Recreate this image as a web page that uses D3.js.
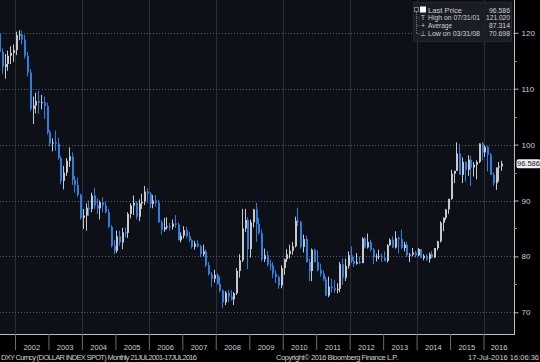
<!DOCTYPE html>
<html>
<head>
<meta charset="utf-8">
<script src="https://cdn.jsdelivr.net/npm/d3@7"></script>
<style>
  body { margin: 0; background: #000; }
  svg { display: block; }
  text { font-family: "Liberation Sans", Arial, sans-serif; }
</style>
</head>
<body>
<div id="chart"></div>
<script>
// DXY monthly OHLC, Jul 2001 - Jul 2016 (one row per year)
const firstMonth = new Date(2001, 6, 1);

const opens = [
  119.8, 116.6, 113.9, 114.4, 115.9, 116.4,
  116.9, 119.6, 119.7, 118.8, 115.9, 112.9, 106.4, 107.0, 107.8, 107.5, 107.6, 106.9,
  102.2, 100.2, 100.4, 100.2, 97.6, 93.5, 95.0, 97.1, 97.9, 93.7, 92.8, 91.0,
  86.9, 87.3, 88.7, 88.5, 90.9, 89.1, 88.6, 89.7, 89.1, 87.9, 85.3, 81.9,
  81.0, 83.6, 82.5, 84.3, 84.2, 87.6, 89.1, 89.6, 87.1, 89.5, 89.8, 91.6,
  91.2, 89.4, 90.0, 89.6, 86.1, 84.8, 85.2, 85.4, 85.3, 85.9, 85.7, 82.9,
  83.7, 84.7, 83.6, 82.9, 81.7, 82.3, 81.8, 80.4, 80.9, 78.4, 76.8, 76.0,
  76.7, 75.1, 73.9, 71.8, 73.5, 72.8, 72.3, 73.4, 77.4, 79.3, 85.0, 86.5,
  81.3, 86.1, 88.4, 85.8, 84.2, 79.5, 80.2, 78.5, 78.4, 76.9, 76.3, 74.8,
  77.9, 79.5, 80.4, 81.0, 81.8, 86.4, 86.2, 81.7, 83.1, 79.0, 77.4, 81.2,
  79.0, 77.6, 76.9, 75.9, 73.0, 74.6, 74.3, 74.0, 74.2, 78.6, 76.2, 78.3,
  80.2, 79.2, 78.7, 79.0, 78.8, 83.2, 81.6, 82.6, 81.2, 79.9, 80.0, 80.1,
  79.8, 79.2, 82.0, 83.0, 81.6, 83.3, 83.1, 81.5, 82.1, 80.2, 80.3, 80.7,
  80.2, 81.3, 79.7, 80.1, 79.5, 80.4, 79.8, 81.5, 82.7, 86.0, 86.9, 88.4,
  90.3, 94.8, 95.3, 98.4, 94.6, 96.9, 95.5, 97.3, 95.9, 96.4, 96.9, 100.2,
  98.6, 99.6, 98.2, 94.6, 93.1, 95.9, 96.1
];

const highs = [
  121.0, 117.2, 116.2, 116.8, 117.6, 117.9,
  120.2, 120.5, 120.4, 119.6, 116.6, 113.5, 108.6, 109.3, 109.6, 108.9, 108.6, 107.5,
  102.6, 101.1, 102.5, 101.2, 97.9, 96.2, 97.6, 99.5, 98.6, 94.4, 94.1, 91.2,
  88.5, 89.5, 90.0, 91.4, 92.3, 90.4, 90.0, 90.6, 89.9, 88.5, 85.6, 82.9,
  84.6, 84.6, 85.1, 85.2, 87.9, 89.5, 90.9, 89.9, 90.2, 91.2, 92.6, 92.2,
  91.5, 91.0, 91.0, 90.1, 86.5, 86.9, 87.0, 86.0, 86.6, 87.4, 86.1, 84.3,
  85.4, 85.3, 84.4, 83.1, 82.8, 82.9, 82.1, 82.1, 81.3, 79.0, 77.2, 77.6,
  77.0, 76.4, 74.1, 73.8, 74.0, 74.0, 73.6, 77.9, 80.4, 88.5, 88.5, 87.0,
  86.6, 88.5, 89.6, 86.9, 84.8, 81.4, 81.0, 79.4, 79.0, 77.5, 76.6, 78.4,
  79.6, 81.3, 82.1, 82.6, 87.1, 88.7, 86.3, 83.9, 83.7, 79.6, 81.4, 81.4,
  81.1, 78.7, 77.5, 76.4, 76.4, 76.0, 75.8, 75.2, 79.0, 79.6, 79.6, 80.9,
  81.8, 79.9, 80.6, 80.0, 83.4, 83.5, 84.1, 83.0, 81.5, 80.5, 81.2, 80.5,
  80.9, 82.2, 83.2, 83.6, 84.5, 83.6, 84.8, 82.6, 82.6, 80.6, 81.5, 81.0,
  81.5, 81.3, 80.4, 80.4, 80.7, 81.0, 81.5, 82.8, 86.3, 87.0, 88.5, 90.3,
  95.5, 95.3, 100.4, 100.1, 97.7, 97.0, 98.1, 98.0, 96.9, 97.2, 100.2, 100.5,
  99.9, 99.8, 98.5, 95.1, 95.9, 96.9, 97.1
];

const lows = [
  115.4, 112.6, 111.8, 113.2, 114.4, 114.8,
  116.0, 118.7, 117.9, 115.4, 112.2, 106.0, 103.7, 105.6, 105.5, 106.3, 104.6, 101.8,
  99.7, 98.8, 98.9, 97.3, 92.9, 92.0, 94.4, 96.0, 92.8, 91.4, 90.6, 86.6,
  84.9, 84.6, 87.2, 87.9, 88.5, 87.6, 86.6, 87.9, 87.7, 85.1, 81.6, 80.4,
  80.6, 81.9, 81.3, 83.4, 83.3, 86.8, 87.4, 86.6, 86.3, 88.5, 89.2, 89.5,
  88.6, 88.6, 88.9, 86.0, 83.9, 84.4, 84.8, 84.6, 84.8, 85.1, 82.9, 82.5,
  83.2, 83.3, 82.6, 81.4, 81.2, 81.6, 79.9, 80.0, 78.1, 76.6, 74.5, 75.3,
  74.9, 73.6, 70.7, 71.3, 71.8, 72.1, 71.3, 73.1, 76.2, 79.0, 84.4, 77.7,
  79.8, 85.2, 82.6, 83.9, 79.1, 79.0, 78.2, 77.5, 76.1, 75.2, 74.2, 74.3,
  76.7, 79.0, 79.6, 80.3, 81.6, 85.4, 81.4, 80.7, 78.9, 75.6, 75.6, 78.9,
  77.3, 76.4, 75.6, 72.9, 72.7, 73.5, 73.5, 73.4, 73.6, 74.9, 75.6, 77.8,
  78.8, 78.1, 78.5, 78.6, 78.8, 81.4, 81.4, 80.9, 78.6, 79.1, 79.5, 79.0,
  79.1, 78.9, 81.9, 81.5, 81.4, 80.5, 81.3, 80.9, 79.9, 79.0, 80.0, 79.8,
  80.0, 79.7, 79.3, 79.2, 78.9, 79.7, 79.7, 81.1, 82.5, 84.5, 86.5, 87.6,
  90.1, 93.1, 95.3, 94.6, 93.1, 93.4, 94.4, 92.6, 94.3, 93.8, 96.7, 97.2,
  97.8, 95.2, 94.6, 92.6, 91.9, 93.4, 95.3
];

const closes = [
  116.6, 113.9, 114.4, 115.9, 116.4, 116.9,
  119.6, 119.7, 118.8, 115.9, 112.9, 106.4, 107.0, 107.8, 107.5, 107.6, 106.9, 102.2,
  100.2, 100.4, 100.2, 97.6, 93.5, 95.0, 97.1, 97.9, 93.7, 92.8, 91.0, 86.9,
  87.3, 88.7, 88.5, 90.9, 89.1, 88.6, 89.7, 89.1, 87.9, 85.3, 81.9, 81.0,
  83.6, 82.5, 84.3, 84.2, 87.6, 89.1, 89.6, 87.1, 89.5, 89.8, 91.6, 91.2,
  89.4, 90.0, 89.6, 86.1, 84.8, 85.2, 85.4, 85.3, 85.9, 85.7, 82.9, 83.7,
  84.7, 83.6, 82.9, 81.7, 82.3, 81.8, 80.4, 80.9, 78.4, 76.8, 76.0, 76.7,
  75.1, 73.9, 71.8, 73.5, 72.8, 72.3, 73.4, 77.4, 79.3, 85.0, 86.5, 81.3,
  86.1, 88.4, 85.8, 84.2, 79.5, 80.2, 78.5, 78.4, 76.9, 76.3, 74.8, 77.9,
  79.5, 80.4, 81.0, 81.8, 86.4, 86.2, 81.7, 83.1, 79.0, 77.4, 81.2, 79.0,
  77.6, 76.9, 75.9, 73.0, 74.6, 74.3, 74.0, 74.2, 78.6, 76.2, 78.3, 80.2,
  79.2, 78.7, 79.0, 78.8, 83.2, 81.6, 82.6, 81.2, 79.9, 80.0, 80.1, 79.8,
  79.2, 82.0, 83.0, 81.6, 83.3, 83.1, 81.5, 82.1, 80.2, 80.3, 80.7, 80.2,
  81.3, 79.7, 80.1, 79.5, 80.4, 79.8, 81.5, 82.7, 86.0, 86.9, 88.4, 90.3,
  94.8, 95.3, 98.4, 94.6, 96.9, 95.5, 97.3, 95.9, 96.4, 96.9, 100.2, 98.6,
  99.6, 98.2, 94.6, 93.1, 95.9, 96.1, 96.586
];

const yearLabels = ['2002', '2003', '2004', '2005', '2006', '2007', '2008', '2009',
  '2010', '2011', '2012', '2013', '2014', '2015', '2016'];
const yTicks = [70, 80, 90, 100, 110, 120];
const yMinorTicks = [75, 85, 95, 105, 115];

const lastPrice = 96.586;
const legendLabels = ['Last Price', 'High on 07/31/01', 'Average', 'Low on 03/31/08'];
const legendValues = ['96.586', '121.020', '87.314', '70.698'];
const legendIcons = ['square', 'T', '+', '\u22A5'];

const width = 540;
const height = 362;
const plotRight = 514;
const plotBottom = 334;
const upColor = '#c8c8c8';
const downColor = '#2b7fe0';
const textColor = '#cfcfcf';

const svg = d3.select('#chart')
  .append('svg')
  .attr('width', width)
  .attr('height', height);

svg.append('rect')
  .attr('width', width)
  .attr('height', height)
  .attr('fill', '#000');

// plot background
svg.append('rect')
  .attr('width', plotRight)
  .attr('height', plotBottom)
  .attr('fill', '#0e1018');

const x = d3.scaleTime()
  .domain([new Date(2002, 0, 1), new Date(2016, 0, 1)])
  .range([15, 483.5]);

const y = d3.scaleLinear()
  .domain([70, 120])
  .range([312.3, 32.8]);

const bars = closes.map((c, i) => {
  const start = d3.timeMonth.offset(firstMonth, i);
  const end = d3.timeMonth.offset(firstMonth, i + 1);
  return { start, end, open: opens[i], high: highs[i], low: lows[i], close: c };
});

// gridlines
svg.append('g')
  .selectAll('line')
  .data(d3.timeYear.range(new Date(2002, 0, 1), new Date(2017, 0, 1), 2))
  .enter()
  .append('line')
  .attr('x1', d => Math.round(x(d)) + 0.5)
  .attr('x2', d => Math.round(x(d)) + 0.5)
  .attr('y1', 0)
  .attr('y2', plotBottom)
  .attr('stroke', '#2c2f38');

svg.append('g')
  .selectAll('line')
  .data(yTicks)
  .enter()
  .append('line')
  .attr('x1', 0)
  .attr('x2', plotRight)
  .attr('y1', d => Math.round(y(d)) + 0.5)
  .attr('y2', d => Math.round(y(d)) + 0.5)
  .attr('stroke', '#5a5d66')
  .attr('stroke-dasharray', '1,2');

// candles
svg.append('clipPath')
  .attr('id', 'plot-clip')
  .append('rect')
  .attr('width', plotRight)
  .attr('height', plotBottom);

const candle = svg.append('g')
  .attr('clip-path', 'url(#plot-clip)')
  .selectAll('g')
  .data(bars)
  .enter()
  .append('g')
  .attr('fill', d => (d.close >= d.open ? upColor : downColor))
  .attr('stroke', d => (d.close >= d.open ? upColor : downColor));

const cx = d => Math.round((x(d.start) + x(d.end)) / 2 - 0.5);

candle.append('line')
  .attr('x1', d => cx(d) + 0.5)
  .attr('x2', d => cx(d) + 0.5)
  .attr('y1', d => y(d.high))
  .attr('y2', d => y(d.low));

candle.append('rect')
  .attr('stroke', 'none')
  .attr('x', d => cx(d))
  .attr('width', 2)
  .attr('y', d => y(Math.max(d.open, d.close)))
  .attr('height', d => Math.max(1, Math.abs(y(d.open) - y(d.close))));

// right axis
svg.append('line')
  .attr('x1', plotRight + 0.5)
  .attr('x2', plotRight + 0.5)
  .attr('y1', 0)
  .attr('y2', plotBottom)
  .attr('stroke', '#bdbdbd');

const yAxis = svg.append('g')
  .attr('transform', `translate(${plotRight + 0.5},0)`)
  .call(d3.axisRight(y).tickValues(yTicks).tickSize(4).tickPadding(3).tickFormat(d3.format('d')));
yAxis.select('.domain').remove();
yAxis.selectAll('line').attr('stroke', '#bdbdbd');
yAxis.selectAll('text')
  .attr('fill', textColor)
  .style('font-size', '8px');

svg.append('g')
  .selectAll('line')
  .data(yMinorTicks)
  .enter()
  .append('line')
  .attr('x1', plotRight)
  .attr('x2', plotRight + 3)
  .attr('y1', d => Math.round(y(d)) + 0.5)
  .attr('y2', d => Math.round(y(d)) + 0.5)
  .attr('stroke', '#8a8a8a');

// bottom axis
svg.append('line')
  .attr('x1', 0)
  .attr('x2', plotRight + 1)
  .attr('y1', plotBottom + 0.5)
  .attr('y2', plotBottom + 0.5)
  .attr('stroke', '#bdbdbd');

const xAxis = svg.append('g')
  .attr('transform', `translate(0,${plotBottom})`)
  .call(d3.axisBottom(x)
    .tickValues(d3.timeYear.range(new Date(2002, 0, 1), new Date(2017, 0, 1)))
    .tickSize(16)
    .tickFormat(''));
xAxis.select('.domain').remove();
xAxis.selectAll('line').attr('stroke', '#6d6d6d');

svg.append('g')
  .selectAll('text')
  .data(yearLabels)
  .enter()
  .append('text')
  .attr('x', d => Math.min((x(new Date(+d, 0, 1)) + x(new Date(+d + 1, 0, 1))) / 2, 499))
  .attr('y', 349.5)
  .attr('text-anchor', 'middle')
  .attr('fill', textColor)
  .style('font-size', '7.5px')
  .text(d => d);

// footer
const footer = svg.append('g')
  .attr('fill', textColor)
  .style('font-size', '7.5px');
footer.append('text')
  .attr('x', 1)
  .attr('y', 359.5)
  .attr('textLength', 196)
  .text('DXY Curncy (DOLLAR INDEX SPOT)  Monthly 21JUL2001-17JUL2016');
footer.append('text')
  .attr('x', 276)
  .attr('y', 359.5)
  .attr('textLength', 122)
  .text('Copyright\u00A9 2016 Bloomberg Finance L.P.');
footer.append('text')
  .attr('x', 539)
  .attr('y', 359.5)
  .attr('text-anchor', 'end')
  .text('17-Jul-2016 16:06:36');

// last price tag
const lastY = y(lastPrice);
svg.append('rect')
  .attr('x', 516.5)
  .attr('y', lastY - 4.5)
  .attr('width', 24)
  .attr('height', 9)
  .attr('rx', 2)
  .attr('fill', '#f2f2f2');
svg.append('text')
  .attr('x', 528.5)
  .attr('y', lastY + 2.8)
  .attr('text-anchor', 'middle')
  .attr('fill', '#111')
  .style('font-size', '7.5px')
  .text(legendValues[0]);

// legend
const legend = svg.append('g');
legend.append('rect')
  .attr('x', 413.5)
  .attr('y', 2.5)
  .attr('width', 98)
  .attr('height', 39)
  .attr('fill', 'rgba(28,30,38,0.92)')
  .attr('stroke', '#23262e');

legend.append('rect')
  .attr('x', 414.5)
  .attr('y', 7.5)
  .attr('width', 4)
  .attr('height', 4)
  .attr('fill', 'none')
  .attr('stroke', '#777');
legend.append('line')
  .attr('x1', 416.5)
  .attr('x2', 416.5)
  .attr('y1', 12)
  .attr('y2', 34)
  .attr('stroke', '#777')
  .attr('stroke-dasharray', '1,1');

const labelWidths = [34, 52, 24, 52];
const valueWidths = [21, 24, 21, 21];

const legendRow = legend.selectAll('.legend-row')
  .data(legendLabels)
  .enter()
  .append('g')
  .attr('class', 'legend-row')
  .attr('transform', (d, i) => `translate(0, ${12.5 + i * 7.9})`);

legendRow.filter((d, i) => i > 0)
  .append('line')
  .attr('x1', 416.5)
  .attr('x2', 419.5)
  .attr('y1', -2.5)
  .attr('y2', -2.5)
  .attr('stroke', '#777')
  .attr('stroke-dasharray', '1,1');

legendRow.each(function (d, i) {
  const row = d3.select(this);
  if (legendIcons[i] === 'square') {
    row.append('rect')
      .attr('x', 420)
      .attr('y', -6)
      .attr('width', 6)
      .attr('height', 6)
      .attr('fill', '#fff');
  } else {
    row.append('text')
      .attr('x', 423)
      .attr('text-anchor', 'middle')
      .attr('fill', textColor)
      .style('font-size', '7px')
      .text(legendIcons[i]);
  }
});

legendRow.append('text')
  .attr('x', 428)
  .attr('fill', textColor)
  .style('font-size', '7px')
  .attr('textLength', (d, i) => labelWidths[i])
  .attr('lengthAdjust', 'spacingAndGlyphs')
  .text(d => d);

legendRow.append('text')
  .attr('x', (d, i) => 510 - valueWidths[i])
  .attr('fill', textColor)
  .style('font-size', '7px')
  .attr('textLength', (d, i) => valueWidths[i])
  .attr('lengthAdjust', 'spacingAndGlyphs')
  .text((d, i) => legendValues[i]);
</script>
</body>
</html>
